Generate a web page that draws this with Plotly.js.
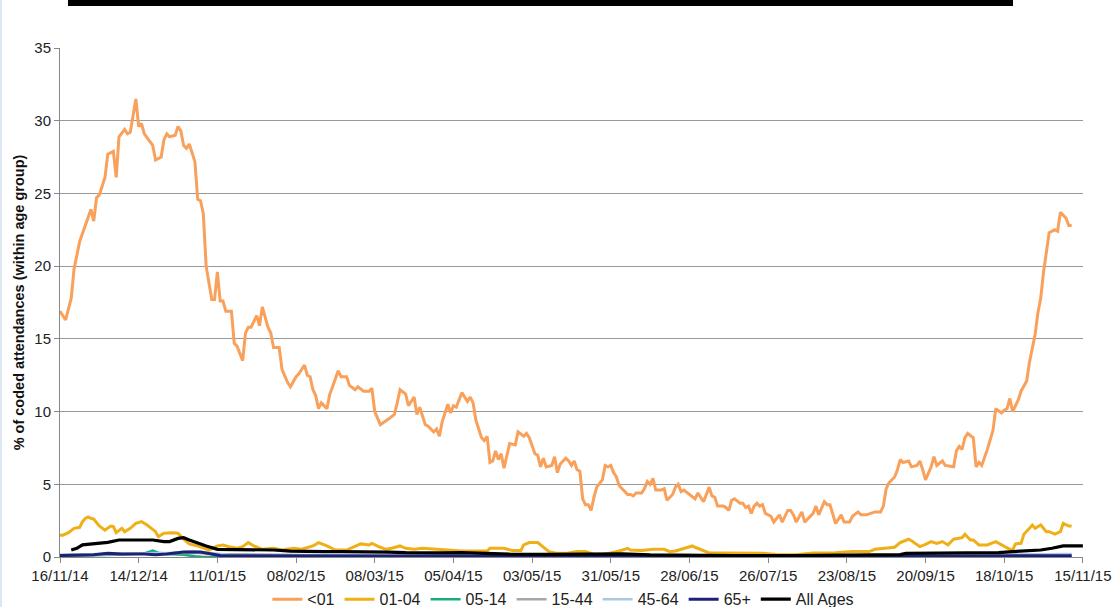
<!DOCTYPE html>
<html>
<head>
<meta charset="utf-8">
<script src="https://cdn.plot.ly/plotly-3.0.1.min.js"></script>
<style>
html,body{margin:0;padding:0;background:#fff;}
#chart{width:1113px;height:607px;}
</style>
</head>
<body>
<div id="chart"></div>
<script>
// Day offsets are counted from 16/11/2014
var startDate = '2014-11-16';

var lt01Days = [0,1,2,4,5,7,9,11,12,13,14,16,17,19,20,21,23,24,25,27,28,29,30,32,33,34,36,37,38,39,41,42,43,44,45,46,48,49,50,51,52,54,55,56,57,58,59,61,62,63,65,66,67,68,70,71,72,74,75,76,78,79,81,82,84,85,87,88,89,90,91,92,93,95,96,97,99,100,102,103,105,106,108,110,111,112,114,117,119,120,121,123,124,126,127,128,130,131,133,134,135,136,138,139,140,141,143,145,146,147,148,150,151,152,153,154,155,156,157,158,160,162,163,165,166,167,169,170,171,172,173,175,176,177,178,180,181,182,183,184,185,186,187,188,189,190,191,193,194,195,196,197,198,199,200,202,203,204,205,207,208,209,210,211,212,214,215,216,218,219,220,221,222,224,226,227,229,231,232,233,234,236,237,238,239,240,242,243,244,245,246,247,248,249,250,251,253,254,256,257,259,260,261,262,264,265,267,268,269,270,272,273,274,275,276,278,279,281,282,284,285,287,289,290,292,293,294,295,297,298,299,300,302,303,305,306,307,308,310,311,312,314,315,318,319,320,321,322,323,325,326,327,328,330,332,333,335,336,337,338,339,341,342,344,345,347,348,349,350,351,352,354,355,356,357,358,359,360];
var lt01Vals = [16.9,16.6,16.3,17.8,19.8,21.7,22.8,23.9,23.1,24.7,24.9,26.1,27.7,27.9,26.1,28.9,29.4,29.1,29.2,31.5,29.6,29.8,29.1,28.6,28.3,27.3,27.5,28.7,29.1,28.9,29.0,29.6,29.3,28.3,28.1,28.4,27.2,24.6,24.5,23.6,20.0,17.7,17.7,19.6,17.6,17.6,16.9,16.9,14.7,14.5,13.5,15.4,15.8,15.8,16.6,15.9,17.2,15.8,15.4,14.4,14.4,12.9,12.0,11.7,12.4,12.6,13.2,12.5,12.4,11.5,11.1,10.2,10.6,10.2,11.2,11.7,12.8,12.4,12.4,11.8,11.5,11.7,11.4,11.4,11.6,10.0,9.1,9.5,9.8,10.6,11.5,11.2,10.4,11.0,9.8,10.3,9.1,9.0,8.6,8.8,8.3,9.3,10.5,9.9,10.4,10.3,11.3,10.7,11.0,10.6,9.4,8.2,8.0,8.3,6.5,6.6,7.3,6.7,7.1,6.1,7.8,7.7,8.6,8.3,8.5,8.2,7.1,7.0,6.2,6.8,6.2,6.3,6.9,5.8,6.4,6.8,6.6,6.3,6.6,6.0,5.9,4.0,3.6,3.6,3.2,4.1,4.8,5.3,6.3,6.2,6.3,5.8,5.5,4.9,4.7,4.3,4.3,4.2,4.4,4.4,4.7,5.2,5.0,5.4,4.6,4.6,4.7,3.9,4.3,4.8,5.0,4.5,4.6,4.3,4.0,4.4,3.8,4.8,4.2,4.1,3.5,3.5,3.4,3.2,3.9,4.0,3.7,3.7,3.4,3.5,3.0,3.5,3.7,3.5,3.6,3.0,2.8,2.4,2.9,2.4,3.2,3.2,2.9,2.4,3.1,2.4,2.8,3.0,3.5,2.9,3.8,3.6,3.6,3.0,2.3,2.9,2.4,2.4,2.8,3.1,2.9,2.9,3.0,3.1,3.1,3.5,4.7,5.1,5.5,6.0,6.7,6.5,6.6,6.2,6.3,6.6,6.0,5.3,6.2,6.9,6.3,6.6,6.3,6.2,7.3,7.6,7.4,8.2,8.5,8.2,6.2,6.5,6.3,7.4,8.7,10.2,9.9,10.1,10.2,10.9,10.0,10.8,11.4,12.1,13.4,15.3,16.8,17.8,19.6,20.8,22.3,22.5,22.4,23.7,23.5,23.3,22.8,22.8];

var a0104Days = [0,1,3,5,7,8,9,10,11,12,14,16,18,19,20,22,23,25,27,29,31,34,35,37,40,42,44,46,49,51,53,56,58,60,63,65,67,69,72,76,79,83,86,90,92,95,98,102,105,107,110,111,114,116,118,121,123,126,129,133,135,139,143,148,152,153,158,161,164,165,167,170,172,174,177,180,184,187,190,192,196,199,202,203,207,211,215,217,219,222,225,226,229,231,236,241,245,250,255,262,268,274,276,282,288,290,295,297,299,302,303,306,308,310,312,314,316,318,321,322,324,325,327,330,333,335,338,339,340,342,343,345,346,347,349,351,352,354,356,357,359,360];
var a0104Vals = [1.5,1.5,1.67,1.97,2.04,2.43,2.65,2.75,2.66,2.61,2.13,1.85,2.13,2.09,1.67,1.97,1.74,1.97,2.31,2.43,2.2,1.74,1.4,1.63,1.67,1.63,1.22,0.9,0.76,0.6,0.48,0.76,0.83,0.71,0.6,0.71,0.99,0.76,0.53,0.6,0.48,0.6,0.53,0.76,0.99,0.76,0.48,0.48,0.76,0.9,0.83,0.94,0.67,0.53,0.6,0.76,0.6,0.53,0.6,0.55,0.5,0.48,0.41,0.41,0.41,0.6,0.6,0.44,0.44,0.83,0.99,0.99,0.71,0.37,0.25,0.25,0.37,0.37,0.18,0.12,0.28,0.41,0.6,0.48,0.44,0.53,0.53,0.37,0.41,0.6,0.76,0.67,0.44,0.28,0.28,0.28,0.25,0.25,0.18,0.16,0.28,0.28,0.3,0.37,0.37,0.53,0.6,0.67,0.99,1.22,1.12,0.71,0.87,1.06,0.94,1.06,0.83,1.22,1.33,1.56,1.17,1.17,0.83,0.83,1.06,0.83,0.53,0.48,0.9,0.94,1.56,1.97,2.2,1.97,2.2,1.74,1.74,1.58,1.74,2.31,2.13,2.13];

var a0514Days = [0,10,20,25,30,33,35,38,44,48,51,54,60,80,120,200,300,360];
var a0514Vals = [0.08,0.1,0.15,0.2,0.25,0.45,0.3,0.2,0.15,0.05,0.0,0.02,0.1,0.05,0.05,0.03,0.05,0.08];

var a1544Days = [0,20,40,48,55,100,200,300,360];
var a1544Vals = [0.12,0.2,0.25,0.3,0.2,0.1,0.07,0.08,0.15];

var a4564Days = [0,20,40,47,52,60,100,150,200,250,300,340,360];
var a4564Vals = [0.15,0.25,0.3,0.4,0.3,0.15,0.12,0.1,0.08,0.08,0.1,0.15,0.2];

var a65Days = [0,8,12,17,22,30,34,38,42,44,50,53,57,65,80,100,120,140,160,200,240,280,320,340,360];
var a65Vals = [0.1,0.1,0.15,0.25,0.2,0.2,0.15,0.2,0.3,0.35,0.35,0.25,0.1,0.08,0.07,0.08,0.06,0.06,0.05,0.05,0.04,0.05,0.06,0.08,0.08];

var allDays = [4,6,8,12,17,21,26,30,33,37,39,42,44,46,49,52,56,59,64,70,76,82,88,94,100,106,111,117,123,129,135,143,150,160,175,190,194,200,210,220,240,260,274,290,299,301,330,334,339,344,349,353,357,364];
var allVals = [0.48,0.6,0.83,0.9,1.01,1.17,1.17,1.22,1.17,1.06,1.06,1.28,1.33,1.17,0.94,0.76,0.53,0.53,0.48,0.48,0.48,0.41,0.37,0.37,0.37,0.37,0.37,0.34,0.3,0.28,0.28,0.3,0.25,0.2,0.18,0.2,0.25,0.22,0.15,0.12,0.1,0.1,0.12,0.14,0.16,0.25,0.25,0.3,0.37,0.41,0.48,0.6,0.76,0.76];

var seriesNames = ['<01','01-04','05-14','15-44','45-64','65+','All Ages'];
var seriesColors = ['#F9A05A','#EFAF17','#16AB7E','#A6A6A6','#A9C9E2','#1C2277','#000000'];
var seriesWidths = [3,3,2.5,2.5,2.5,3,3.2];

function toDates(days){
  var base = Date.UTC(2014,10,16);
  return days.map(function(d){ return new Date(base + d*86400000).toISOString().slice(0,10); });
}

var dayArrays = [lt01Days,a0104Days,a0514Days,a1544Days,a4564Days,a65Days,allDays];
var valArrays = [lt01Vals,a0104Vals,a0514Vals,a1544Vals,a4564Vals,a65Vals,allVals];

var traces = seriesNames.map(function(n,i){
  return {
    type:'scatter', mode:'lines', name:n,
    x: toDates(dayArrays[i]), y: valArrays[i],
    line:{color:seriesColors[i], width:seriesWidths[i]},
    hoverinfo:'x+y+name'
  };
});

var FONT = 'Arial, "Liberation Sans", sans-serif';
var layout = {
  width:1113, height:607,
  margin:{l:60, r:30, t:48, b:50, autoexpand:false},
  paper_bgcolor:'#ffffff', plot_bgcolor:'#ffffff',
  showlegend:true,
  legend:{orientation:'h', x:0.492, xanchor:'center', y:-0.083, yanchor:'middle',
          font:{family:FONT, size:16, color:'#222'}, itemwidth:30, traceorder:'normal'},
  xaxis:{
    type:'date', range:['2014-11-16','2015-11-15 01:00'],
    tickmode:'linear', tick0:startDate, dtick:28*86400000, tickformat:'%d/%m/%y',
    ticks:'outside', ticklen:5, tickcolor:'#888', showline:true, linecolor:'#888', linewidth:1,
    showgrid:false, zeroline:false, automargin:false,
    tickfont:{family:FONT, size:15, color:'#222'}
  },
  yaxis:{
    range:[0,35], dtick:5, tick0:0, automargin:false,
    ticks:'outside', ticklen:5, tickcolor:'#888', showline:true, linecolor:'#888', linewidth:1,
    showgrid:true, gridcolor:'#999', gridwidth:1, zeroline:false,
    tickfont:{family:FONT, size:15, color:'#222'},
    title:{text:'<b>% of coded attendances (within age group)</b>', font:{family:FONT, size:14.5, color:'#111'}, standoff:6}
  },
  shapes:[
    {type:'rect', xref:'paper', yref:'paper', x0:0.0078, x1:0.9316, y0:1.0825, y1:1.0943,
     fillcolor:'#000', line:{width:0}},
    {type:'rect', xref:'paper', yref:'paper', x0:-0.0587, x1:-0.0567, y0:-0.0983, y1:1.0943,
     fillcolor:'#dbe8f4', line:{width:0}}
  ]
};

Plotly.newPlot('chart', traces, layout, {displayModeBar:false, staticPlot:true});
</script>
</body>
</html>
